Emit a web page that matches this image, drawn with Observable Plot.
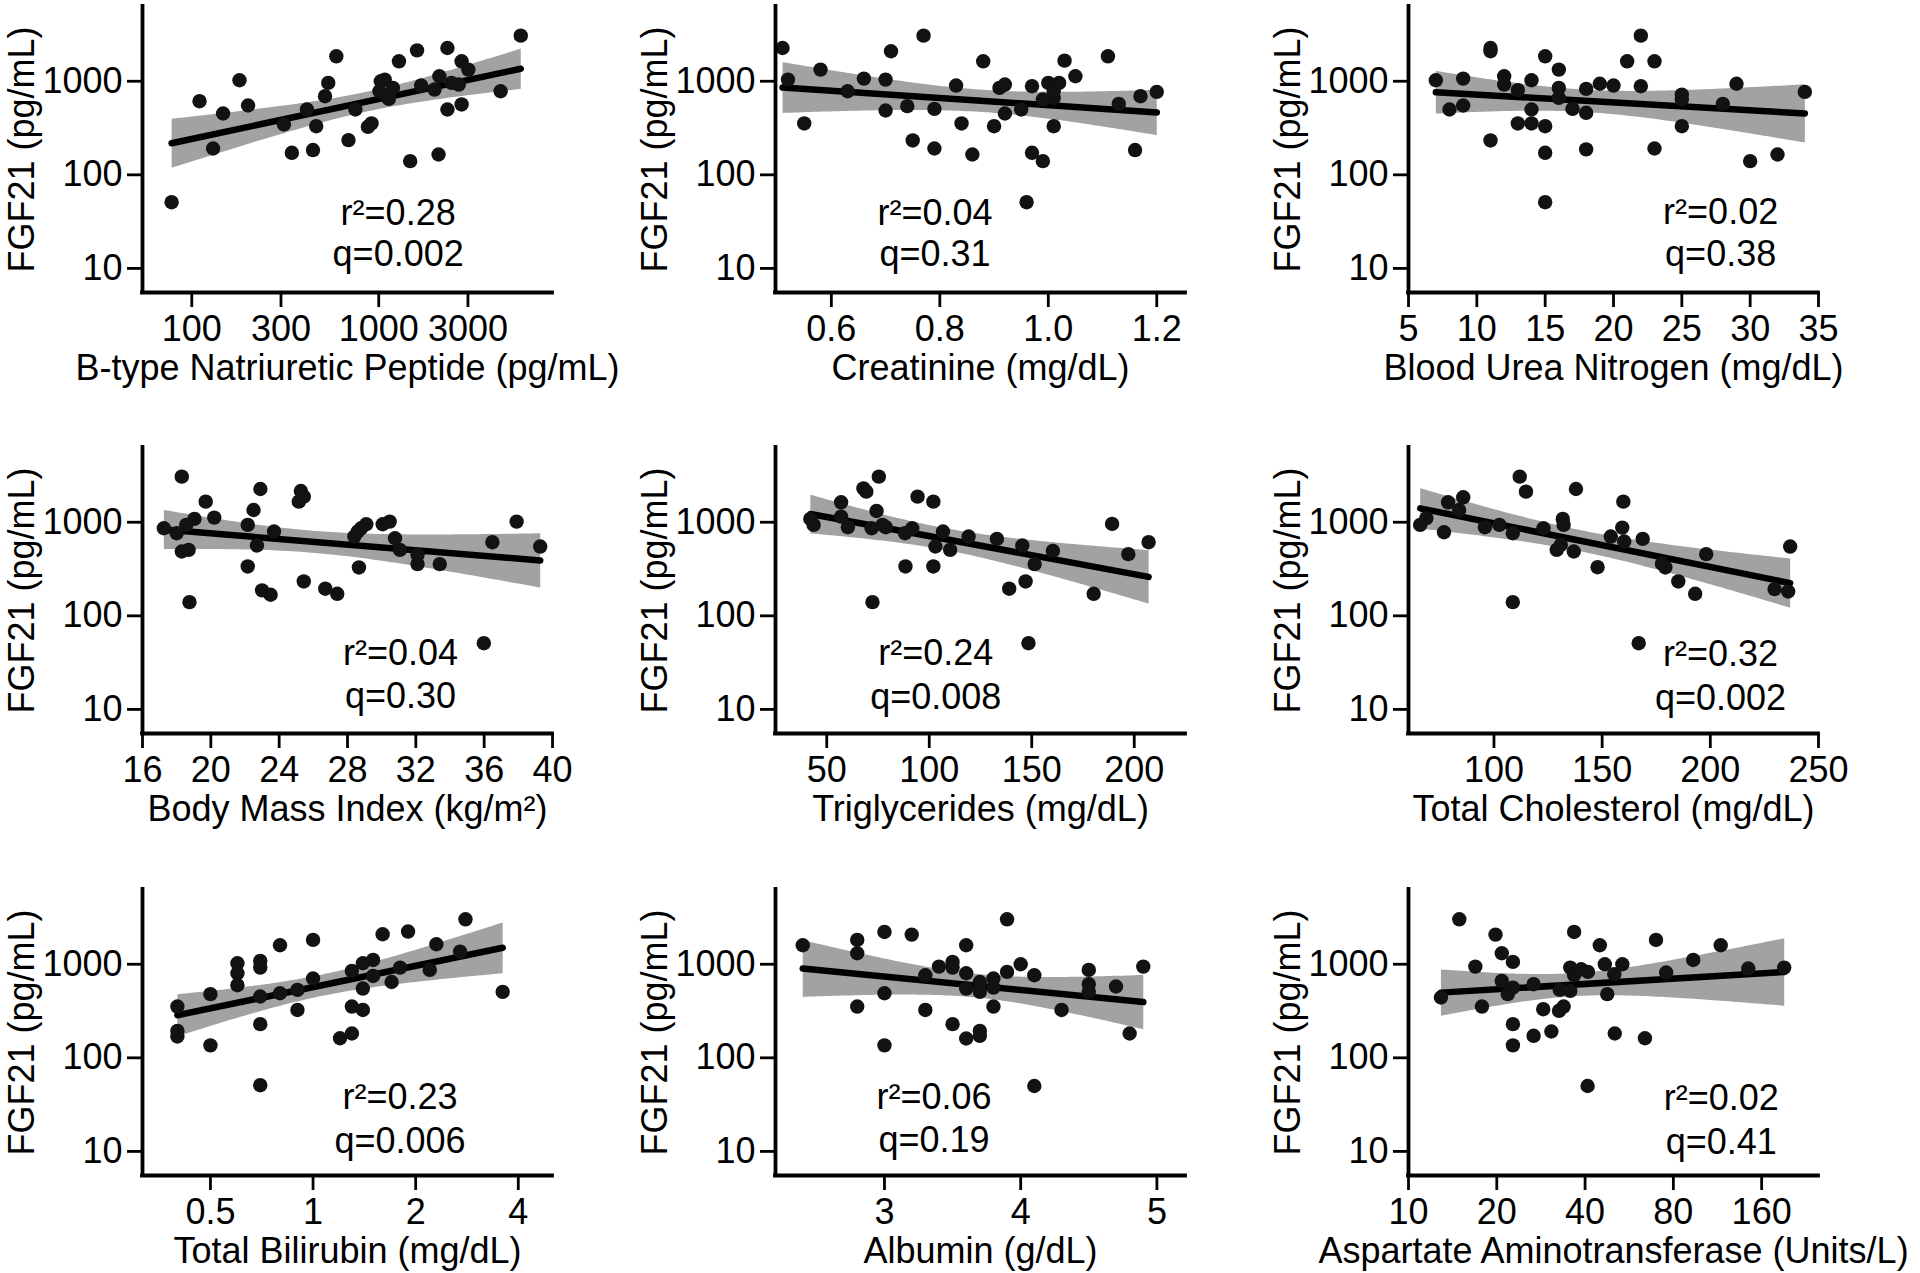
<!DOCTYPE html>
<html><head><meta charset="utf-8">
<script src="https://cdn.jsdelivr.net/npm/d3@7"></script>
<script src="https://cdn.jsdelivr.net/npm/@observablehq/plot@0.6"></script>
<style>
html,body{margin:0;padding:0;background:#fff;overflow:hidden}
#root{position:relative;width:1920px;height:1273px}
.cell{position:absolute;width:632px;height:389px}
</style></head><body><div id="root"></div>
<script>
// ---- shared y axis (FGF21, pg/mL, log) ----
const fgfTicks = [10, 100, 1000];
const fgfTickLabels = ["10", "100", "1000"];
const fgfDomain = [5.53, 6290];
const yTitle = "FGF21 (pg/mL)";

// ---- panel titles ----
const titles = ["B-type Natriuretic Peptide (pg/mL)", "Creatinine (mg/dL)", "Blood Urea Nitrogen (mg/dL)",
  "Body Mass Index (kg/m²)", "Triglycerides (mg/dL)", "Total Cholesterol (mg/dL)",
  "Total Bilirubin (mg/dL)", "Albumin (g/dL)", "Aspartate Aminotransferase (Units/L)"];

// ---- statistics ----
const r2Labels = ["r²=0.28", "r²=0.04", "r²=0.02", "r²=0.04", "r²=0.24", "r²=0.32", "r²=0.23", "r²=0.06", "r²=0.02"];
const qLabels = ["q=0.002", "q=0.31", "q=0.38", "q=0.30", "q=0.008", "q=0.002", "q=0.006", "q=0.19", "q=0.41"];

// ---- data: x values and FGF21 (pg/mL) ----
const bnpX = [78,110,130,147,180,200,311,343,413,445,463,516,537,593,689,750,875,915,1026,1077,1009,1132,1191,1283,1473,1603,1686,1987,2089,2110,2330,2330,2450,2680,2775,2775,3015,4487,5750];
const bnpY = [51,612,191,452,1025,551,345,172,499,184,331,692,960,1847,235,499,326,354,1000,1041,782,649,849,1634,140,2138,899,815,165,1130,2265,499,960,922,565,1634,1331,782,3070];

const creatX = [0.51,0.52,0.55,0.58,0.63,0.66,0.70,0.70,0.71,0.74,0.75,0.77,0.79,0.79,0.83,0.84,0.86,0.88,0.90,0.91,0.92,0.92,0.95,0.96,0.97,0.97,0.99,0.99,1.00,1.01,1.01,1.01,1.02,1.03,1.05,1.11,1.13,1.16,1.17,1.20];
const creatY = [2265,1041,354,1331,782,1067,1041,487,2090,542,233,3070,507,191,899,354,165,1634,331,849,922,452,499,51,885,172,140,638,960,782,665,331,960,1660,1130,1847,573,184,692,770];

const bunX = [7,8,9,9,11,11,11,12,12,13,13,14,14,14,15,15,15,15,16,16,16,17,18,18,18,19,20,21,22,22,23,23,25,25,25,28,29,30,32,34];
const bunY = [1025,499,1067,551,2265,2090,233,1130,922,804,354,1025,499,354,1847,331,172,51,1331,849,665,507,828,460,187,940,899,1634,3070,885,1634,191,720,638,331,573,940,140,165,770];

const bmiX = [17.25,18.0,18.3,18.3,18.56,18.7,18.75,19.04,19.7,20.2,22.16,22.16,22.5,22.7,22.9,23.0,23.5,23.7,25.15,25.27,25.44,25.44,26.7,27.4,28.4,28.6,28.67,28.8,29.1,30.06,30.47,30.78,31.07,32.1,32.1,33.4,35.98,36.48,37.9,39.28];
const bmiY = [863,764,3070,487,937,507,140,1086,1660,1121,937,337,1352,564,2265,187,168,795,1660,2157,1878,233,195,172,703,795,329,863,952,952,1016,675,507,449,357,357,51,612,1016,550];

const tgX = [42,43.6,57,57,60.3,67.9,69.3,71.9,72.3,74.3,75.4,77.2,78.8,88.2,88.4,91.7,94.3,102,102,103,106.7,110.2,119.2,133,139,145.4,147,148.4,151.4,160.3,180.2,189.2,197.1,207];
const tgY = [1086,937,1633,1149,885,2300,2123,863,140,1320,3070,937,885,764,337,863,1878,1660,337,551,795,507,703,664,195,564,233,51,357,494,172,960,456,612];

const tcX = [65.9,68.75,76.9,78.8,83.9,85.8,95.8,102.5,108.7,108.7,111.9,114.8,122.9,129,130.9,131.8,132.2,136.9,137.9,147.9,154,159.3,159.8,160.2,166.9,168.75,177.65,179.2,185.2,193,198.1,229.7,236,236.9];
const tcY = [937,1103,782,1633,1352,1847,885,937,764,140,3070,2123,863,507,573,1086,937,487,2265,331,703,877,1660,622,51,664,360,329,233,172,456,193,182,550];

const biliX = [0.40,0.40,0.40,0.5,0.5,0.6,0.6,0.6,0.7,0.7,0.7,0.7,0.7,0.8,0.8,0.9,0.9,1.0,1.0,1.2,1.3,1.3,1.3,1.4,1.4,1.4,1.5,1.5,1.6,1.7,1.8,1.9,2.2,2.3,2.7,2.8,3.6];
const biliY = [353,194,169,479,136,1025,801,597,1086,921,452,229,51,1597,490,532,325,1820,703,162,849,353,182,1025,550,325,1112,750,2090,646,921,2234,870,1636,1365,3020,507];

const albX = [2.4,2.8,2.8,2.8,3.0,3.0,3.0,3.2,3.3,3.3,3.4,3.5,3.5,3.5,3.6,3.6,3.6,3.6,3.7,3.7,3.7,3.7,3.8,3.8,3.8,3.9,3.9,4.0,4.1,4.1,4.3,4.5,4.5,4.5,4.7,4.8,4.9];
const albY = [1597,1820,1310,353,2213,490,136,2075,763,325,944,1059,921,229,1597,801,550,161,646,507,194,172,703,563,353,3020,828,1000,763,50,325,870,612,507,578,182,944];

const astX = [12.9,14.9,16.9,17.8,19.8,20.8,20.8,21.8,22.7,22.7,22.7,22.7,26.7,26.7,28.8,30.7,32.6,32.8,33.8,35.6,35.6,36.7,36.7,38.8,40.8,40.9,44.9,46.7,47.6,50.3,50.5,53.6,64,69.8,75.6,93.5,116,144,191];
const astY = [441,3020,944,353,2075,1310,664,479,1059,563,229,136,612,172,331,191,318,532,353,921,519,2213,763,884,50,828,1597,1000,479,782,182,1000,162,1820,815,1112,1597,899,921];

// ---- x tick values / labels ----
const bnpTicks = [100, 300, 1000, 3000], bnpTickLabels = ["100", "300", "1000", "3000"];
const creatTicks = [0.6, 0.8, 1.0, 1.2], creatTickLabels = ["0.6", "0.8", "1.0", "1.2"];
const bunTicks = [5, 10, 15, 20, 25, 30, 35], bunTickLabels = ["5", "10", "15", "20", "25", "30", "35"];
const bmiTicks = [16, 20, 24, 28, 32, 36, 40], bmiTickLabels = ["16", "20", "24", "28", "32", "36", "40"];
const tgTicks = [50, 100, 150, 200], tgTickLabels = ["50", "100", "150", "200"];
const tcTicks = [100, 150, 200, 250], tcTickLabels = ["100", "150", "200", "250"];
const biliTicks = [0.5, 1, 2, 4], biliTickLabels = ["0.5", "1", "2", "4"];
const albTicks = [3, 4, 5], albTickLabels = ["3", "4", "5"];
const astTicks = [10, 20, 40, 80, 160], astTickLabels = ["10", "20", "40", "80", "160"];

// ---- x domains (data units) ----
const xDomains = [[54.5, 8500], [0.497, 1.253], [5, 35], [16, 40], [25, 225], [60.5, 250], [0.316, 5.04], [2.2, 5.21], [10, 250]];
const xLog = [true, false, false, false, false, false, true, false, true];

// ---- annotation anchors (data units: x, y of r² line, y of q line) ----
const statX = [1270, 0.791, 27.84, 31.1, 103.2, 204.7, 1.80, 3.364, 116.5];
const statYr = [39, 39, 40, 39.8, 40, 38.5, 37.4, 37.4, 36.5];
const statYq = [14, 14, 14, 13.7, 13.5, 13.2, 12.9, 13, 12.6];

const xsAll = [bnpX, creatX, bunX, bmiX, tgX, tcX, biliX, albX, astX];
const ysAll = [bnpY, creatY, bunY, bmiY, tgY, tcY, biliY, albY, astY];
const ticksAll = [bnpTicks, creatTicks, bunTicks, bmiTicks, tgTicks, tcTicks, biliTicks, albTicks, astTicks];
const tickLabelsAll = [bnpTickLabels, creatTickLabels, bunTickLabels, bmiTickLabels, tgTickLabels, tcTickLabels, biliTickLabels, albTickLabels, astTickLabels];

// ---- layout ----
const cellW = 632, cellH = 389;
const colLeft = [0, 633, 1266];
const rowTop = [0, 441, 883];
const FONT = '"Liberation Sans", Arial, Helvetica, sans-serif';

function fmt(vals, labels) {
  return d => { const i = vals.findIndex(v => Math.abs(v - d) < 1e-9); return i < 0 ? "" : labels[i]; };
}

const root = document.getElementById("root");
for (let k = 0; k < 9; k++) {
  const tx = xLog[k] ? Math.log10 : (v => v);
  const ty = Math.log10;
  const pts = xsAll[k].map((x, i) => ({x: tx(x), y: ty(ysAll[k][i])}));
  const xd = xDomains[k].map(tx), yd = fgfDomain.map(ty);
  const xt = ticksAll[k].map(tx), yt = fgfTicks.map(ty);
  const stats = [
    {x: tx(statX[k]), y: ty(statYr[k]), t: r2Labels[k]},
    {x: tx(statX[k]), y: ty(statYq[k]), t: qLabels[k]}
  ];
  const svg = Plot.plot({
    width: cellW, height: cellH,
    marginLeft: 142, marginRight: cellW - 142 - 410, marginTop: 6, marginBottom: cellH - 6 - 286,
    x: {domain: xd, label: null},
    y: {domain: yd, label: null},
    style: {fontFamily: FONT, fontSize: "36px", color: "#000", background: "transparent", overflow: "visible"},
    marks: [
      Plot.linearRegressionY(pts, {x: "x", y: "y", fill: "#a2a2a2", fillOpacity: 1, stroke: "#000", strokeWidth: 6.5}),
      Plot.dot(pts, {x: "x", y: "y", r: 7.2, fill: "#121212"}),
      Plot.ruleX([xd[0]], {stroke: "#000", strokeWidth: 3.8, strokeLinecap: "square"}),
      Plot.ruleY([yd[0]], {stroke: "#000", strokeWidth: 3.8, strokeLinecap: "square"}),
      Plot.axisY({ticks: yt, tickFormat: fmt(yt, fgfTickLabels), tickSize: 15, tickPadding: 5, strokeWidth: 2.8, label: null}),
      Plot.axisX({ticks: xt, tickFormat: fmt(xt, tickLabelsAll[k]), tickSize: 15, tickPadding: 8, strokeWidth: 2.8, label: null}),
      Plot.text(stats, {x: "x", y: "y", text: "t", textAnchor: "middle", lineAnchor: "middle", fill: "#000"}),
      Plot.text([titles[k]], {frameAnchor: "bottom", dy: 62, lineAnchor: "top", fill: "#000"}),
      Plot.text([yTitle], {frameAnchor: "left", dx: -120, rotate: -90, lineAnchor: "middle", textAnchor: "middle", fill: "#000"})
    ]
  });
  const div = document.createElement("div");
  div.className = "cell";
  div.style.left = colLeft[k % 3] + "px";
  div.style.top = rowTop[Math.floor(k / 3)] + "px";
  div.appendChild(svg);
  root.appendChild(div);
}
</script></body></html>
